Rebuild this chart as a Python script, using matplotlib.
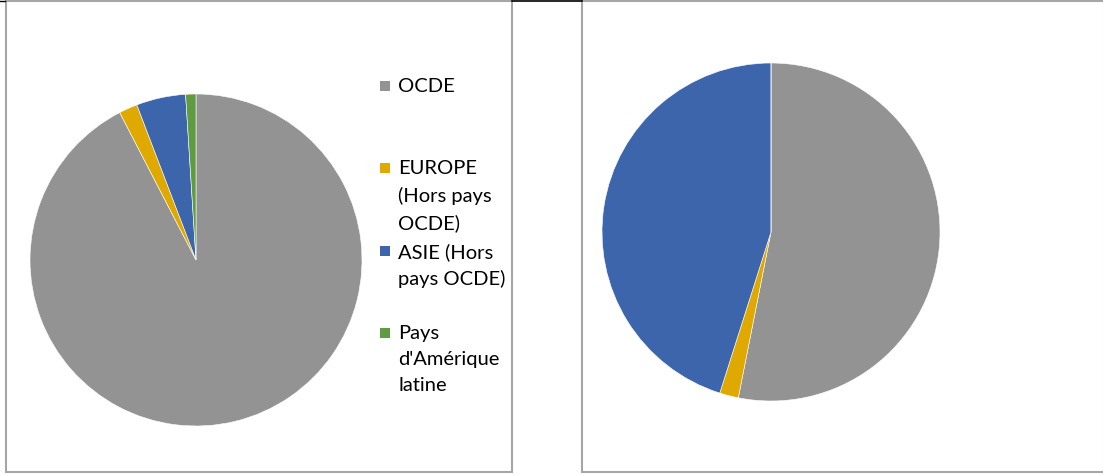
import matplotlib.pyplot as plt
from matplotlib.patches import Rectangle
import textwrap

# Répartition par zone (lecture approximative du graphique)
zones = ['OCDE', 'EUROPE (Hors pays OCDE)', 'ASIE (Hors pays OCDE)', "Pays d'Amérique latine"]
parts_gauche = [92.4, 1.8, 4.8, 1.0]
parts_droite = [53.1, 1.8, 45.1, 0.0]
couleurs = ['#939393', '#E0A900', '#3C65AC', '#5F9B40']

W, H = 1103, 475
plt.rcParams['font.family'] = ['Lato', 'DejaVu Sans']
fig = plt.figure(figsize=(W / 100, H / 100), dpi=100)


def fig_rect(x0, y0, x1, y1):
    # pixels (origine en haut à gauche) -> fraction de figure
    return [x0 / W, 1 - y1 / H, (x1 - x0) / W, (y1 - y0) / H]


# cadres des deux graphiques
for x0, x1 in [(5.5, 512), (582, 1104)]:
    l, b, w, h = fig_rect(x0, 1, x1, 472)
    fig.patches.append(Rectangle((l, b), w, h, transform=fig.transFigure,
                                 fill=False, edgecolor='#A6A6A6', lw=1.5))
fig.add_artist(plt.Line2D([0, 5 / W], [1 - 0.5 / H] * 2, color='black', lw=1, transform=fig.transFigure))
fig.add_artist(plt.Line2D([512 / W, 582 / W], [1 - 0.5 / H] * 2, color='black', lw=1.2, transform=fig.transFigure))

# camembert de gauche
ax1 = fig.add_axes(fig_rect(30, 94, 362, 426))
ax1.pie(parts_gauche, colors=couleurs, startangle=90, counterclock=False,
        wedgeprops={'linewidth': 0.4, 'edgecolor': 'white'})
ax1.set_xlim(-1, 1)
ax1.set_ylim(-1, 1)

# camembert de droite
ax2 = fig.add_axes(fig_rect(602, 63, 940, 401))
ax2.pie(parts_droite, colors=couleurs, startangle=90, counterclock=False,
        wedgeprops={'linewidth': 0.4, 'edgecolor': 'white'})
ax2.set_xlim(-1, 1)
ax2.set_ylim(-1, 1)

# légende
y_entrees = [86, 168, 251, 333]
for nom, c, y in zip(zones, couleurs, y_entrees):
    l, b, w, h = fig_rect(380, y - 5, 390, y + 5)
    fig.patches.append(Rectangle((l, b), w, h, transform=fig.transFigure,
                                 facecolor=c, edgecolor='none'))
    fig.text(398 / W, 1 - (y - 8) / H, textwrap.fill(nom, 10), fontsize=14.5,
             va='top', ha='left', linespacing=1.63, color='black')

fig.savefig('out.png', dpi=100)
